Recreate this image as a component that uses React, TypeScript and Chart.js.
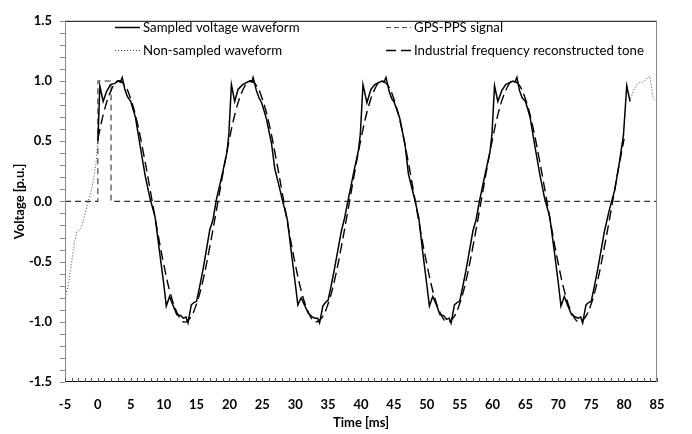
import React, { useEffect, useRef } from "react";
import { Chart, registerables } from "chart.js";

Chart.register(...registerables);

// ---------- data ----------
const legendLabels = [
  "Sampled voltage waveform",
  "Non-sampled waveform",
  "GPS-PPS signal",
  "Industrial frequency reconstructed tone",
];

const xTickStep = 5;
const yTickStep = 0.5;

// Sampled voltage waveform (solid)
const sampledTime = [
  0.0, 0.3, 0.8, 1.3, 1.9, 2.6, 3.1, 3.4, 3.7, 4.1, 4.5, 5.0, 5.7, 6.4, 7.2, 7.9, 8.7, 9.4, 10.0, 10.4,
  10.9, 11.4, 12.0, 12.6, 13.0, 13.4, 13.7, 14.2, 14.6, 15.0, 15.5, 16.0, 17.0, 17.5, 18.0, 19.0, 19.6, 19.9,
  20.3, 20.8, 21.3, 22.0, 22.7, 23.1, 23.4, 23.6, 24.1, 24.5, 24.9, 25.6, 26.4, 26.9, 27.4, 28.1, 28.8, 29.4,
  30.0, 30.4, 30.9, 31.4, 32.0, 32.6, 33.0, 33.4, 33.7, 34.2, 34.6, 35.0, 35.5, 36.0, 37.0, 37.5, 38.0, 39.0,
  39.6, 39.9,
  40.3, 40.9, 41.5, 42.1, 42.8, 43.2, 43.5, 43.8, 44.3, 44.7, 45.0, 45.9, 46.7, 47.2, 47.6, 48.2, 48.8, 49.4,
  50.0, 50.4, 50.9, 51.4, 52.0, 52.6, 53.0, 53.4, 53.7, 54.2, 54.6, 55.0, 55.5, 56.0, 57.0, 57.5, 58.0, 59.0,
  59.6, 59.9,
  60.3, 60.8, 61.4, 62.0, 62.7, 63.1, 63.4, 63.7, 64.1, 64.5, 65.0, 65.7, 66.4, 67.2, 67.9, 68.7, 69.4, 70.0,
  70.4, 70.9, 71.4, 72.0, 72.6, 73.0, 73.4, 73.7, 74.2, 74.6, 75.0, 75.5, 76.0, 77.0, 77.8, 78.6, 79.3, 79.9,
  80.4, 80.9,
];
const sampledVolt = [
  0.50, 0.96, 0.83, 0.91, 0.97, 0.98, 1.00, 0.99, 1.03, 0.93, 0.87, 0.83, 0.70, 0.47, 0.21, 0.03, -0.13, -0.43, -0.68, -0.87,
  -0.79, -0.86, -0.94, -0.95, -0.97, -0.96, -1.01, -0.86, -0.84, -0.83, -0.70, -0.56, -0.24, -0.15, 0.01, 0.25, 0.40, 0.55,
  0.97, 0.83, 0.93, 0.97, 0.99, 1.00, 0.99, 1.03, 0.92, 0.86, 0.82, 0.69, 0.48, 0.27, 0.16, 0.00, -0.15, -0.42,
  -0.68, -0.86, -0.80, -0.86, -0.93, -0.96, -0.97, -0.97, -1.01, -0.87, -0.84, -0.82, -0.69, -0.55, -0.25, -0.14, 0.00, 0.27,
  0.42, 0.56,
  0.97, 0.82, 0.93, 0.97, 0.99, 1.00, 0.99, 1.03, 0.91, 0.85, 0.83, 0.69, 0.47, 0.23, 0.14, 0.01, -0.14, -0.43,
  -0.69, -0.87, -0.79, -0.85, -0.94, -0.95, -0.98, -0.97, -1.01, -0.86, -0.84, -0.83, -0.70, -0.56, -0.25, -0.15, 0.00, 0.26,
  0.41, 0.55,
  0.96, 0.83, 0.92, 0.97, 0.99, 1.00, 0.99, 1.03, 0.92, 0.86, 0.83, 0.70, 0.47, 0.22, 0.03, -0.13, -0.42, -0.68,
  -0.87, -0.79, -0.86, -0.94, -0.96, -0.97, -0.96, -1.01, -0.86, -0.84, -0.83, -0.70, -0.56, -0.25, -0.06, 0.10, 0.33, 0.55,
  0.96, 0.83,
];

// Non-sampled waveform (dotted), null = gap
const nonSampledTime = [-5.0, -4.5, -4.0, -3.5, -3.2, -2.5, -2.0, -1.7, -1.2, -0.7, -0.3, 0.0, 40, 80.9, 81.4, 82.0, 82.6, 83.1, 83.6, 83.9, 84.4, 85.0];
const nonSampledVolt = [-0.80, -0.70, -0.51, -0.32, -0.25, -0.22, -0.11, -0.05, 0.05, 0.17, 0.31, 0.50, null, 0.83, 0.92, 0.98, 0.99, 1.00, 1.03, 1.04, 0.86, 0.83];

// GPS-PPS signal
const ppsTime = [-5, 0, 0, 2, 2, 85];
const ppsVolt = [0, 0, 1, 1, 0, 0];

// Industrial frequency reconstructed tone (read every 1 ms)
const toneTime = [
  0, 1, 2, 3, 4, 5, 6, 7, 8, 9, 10, 11, 12, 13, 14, 15, 16, 17, 18, 19,
  20, 21, 22, 23, 24, 25, 26, 27, 28, 29, 30, 31, 32, 33, 34, 35, 36, 37, 38, 39,
  40, 41, 42, 43, 44, 45, 46, 47, 48, 49, 50, 51, 52, 53, 54, 55, 56, 57, 58, 59,
  60, 61, 62, 63, 64, 65, 66, 67, 68, 69, 70, 71, 72, 73, 74, 75, 76, 77, 78, 79, 80,
];
const toneVolt = [
  0.52, 0.76, 0.92, 1.0, 0.97, 0.85, 0.65, 0.38, 0.08, -0.23, -0.52, -0.76, -0.92, -1.0, -0.97, -0.85, -0.65, -0.38, -0.08, 0.23,
  0.52, 0.76, 0.92, 1.0, 0.97, 0.85, 0.65, 0.38, 0.08, -0.23, -0.52, -0.76, -0.92, -1.0, -0.97, -0.85, -0.65, -0.38, -0.08, 0.23,
  0.52, 0.76, 0.92, 1.0, 0.97, 0.85, 0.65, 0.38, 0.08, -0.23, -0.52, -0.76, -0.92, -1.0, -0.97, -0.85, -0.65, -0.38, -0.08, 0.23,
  0.52, 0.76, 0.92, 1.0, 0.97, 0.85, 0.65, 0.38, 0.08, -0.23, -0.52, -0.76, -0.92, -1.0, -0.97, -0.85, -0.65, -0.38, -0.08, 0.23, 0.52,
];

const pts = (xs: number[], ys: (number | null)[]) => xs.map((x, i) => ({ x, y: ys[i] }));

const FONT = "Lato, 'Open Sans', sans-serif";

const decorPlugin = {
  id: "decor",
  afterDraw(chart: any) {
    const { ctx, chartArea, scales } = chart;
    const { left, right, top, bottom } = chartArea;
    const x = scales.x;
    const y = scales.y;
    const line = (x1: number, y1: number, x2: number, y2: number) => {
      ctx.beginPath();
      ctx.moveTo(x1, y1);
      ctx.lineTo(x2, y2);
      ctx.stroke();
    };
    ctx.save();
    ctx.lineWidth = 1;
    ctx.setLineDash([]);
    // frame
    ctx.strokeStyle = "#000";
    line(left, top + 0.5, right, top + 0.5);
    line(left, bottom - 0.5, right, bottom - 0.5);
    ctx.strokeStyle = "#888";
    line(left + 0.5, top, left + 0.5, bottom);
    line(right - 0.5, top, right - 0.5, bottom);
    // y ticks every 0.1 (outward)
    for (let i = -15; i <= 15; i++) {
      const py = Math.round(y.getPixelForValue(i / 10)) + 0.5;
      line(left - 5, py, left, py);
    }
    // x ticks every 1 ms (inward)
    ctx.strokeStyle = "#555";
    for (let t = -5; t <= 85; t++) {
      const px = Math.round(x.getPixelForValue(t)) + 0.5;
      line(px, bottom, px, bottom - 4);
    }
    // legend: fit font so the longest label spans ~230px like the original
    ctx.font = `13px ${FONT}`;
    const w = ctx.measureText(legendLabels[3]).width;
    const size = Math.max(11, Math.min(15, (13 * 230) / w));
    ctx.font = `${size.toFixed(2)}px ${FONT}`;
    ctx.fillStyle = "#000";
    ctx.textBaseline = "middle";
    ctx.textAlign = "left";
    const rows = [27, 50];
    const items = [
      { col: 0, row: 0, dash: [], color: "#000", width: 1.5 },
      { col: 0, row: 1, dash: [1, 2], color: "#444", width: 1 },
      { col: 1, row: 0, dash: [5, 3], color: "#555", width: 1 },
      { col: 1, row: 1, dash: [10, 5], color: "#000", width: 1.5 },
    ];
    const cols = [115, 386];
    items.forEach((it, i) => {
      const sx = cols[it.col];
      const sy = rows[it.row] + 0.5;
      ctx.strokeStyle = it.color;
      ctx.lineWidth = it.width;
      ctx.setLineDash(it.dash);
      line(sx, sy, sx + 25, sy);
      ctx.setLineDash([]);
      ctx.fillText(legendLabels[i], sx + 28, rows[it.row] + 1);
    });
    ctx.restore();
  },
};

export default function App() {
  const ref = useRef<HTMLCanvasElement | null>(null);
  useEffect(() => {
    document.body.style.margin = "0";
    const canvas = ref.current;
    if (!canvas) return;
    const chart = new Chart(canvas, {
      type: "line",
      data: {
        datasets: [
          {
            label: legendLabels[0],
            data: pts(sampledTime, sampledVolt),
            borderColor: "#000",
            borderWidth: 1.5,
            pointRadius: 0,
            tension: 0,
            fill: false,
          },
          {
            label: legendLabels[3],
            data: pts(toneTime, toneVolt),
            borderColor: "#000",
            borderWidth: 1.4,
            borderDash: [10, 5],
            pointRadius: 0,
            tension: 0.4,
            fill: false,
          },
          {
            label: legendLabels[1],
            data: pts(nonSampledTime, nonSampledVolt),
            borderColor: "#444",
            borderWidth: 1,
            borderDash: [1, 2],
            pointRadius: 0,
            tension: 0,
            spanGaps: false,
            fill: false,
          },
          {
            label: legendLabels[2],
            data: pts(ppsTime, ppsVolt),
            borderColor: "#333",
            borderWidth: 1.1,
            borderDash: [6, 4],
            pointRadius: 0,
            tension: 0,
            fill: false,
          },
        ],
      },
      options: {
        responsive: false,
        animation: false,
        events: [],
        layout: { padding: { top: 13, right: 35, left: 0, bottom: 0 } },
        plugins: { legend: { display: false }, tooltip: { enabled: false } },
        scales: {
          x: {
            type: "linear",
            min: -5,
            max: 85,
            grid: { display: false, drawTicks: false },
            border: { display: false },
            ticks: {
              stepSize: xTickStep,
              padding: 15,
              color: "#000",
              font: { family: FONT, size: 13, weight: "bold" },
              maxRotation: 0,
              autoSkip: false,
            },
            title: {
              display: true,
              text: "Time [ms]",
              color: "#000",
              font: { family: FONT, size: 13, weight: "bold" },
              padding: { top: 0, bottom: 3 },
            },
            afterFit: (s: any) => {
              s.height = 52;
            },
          },
          y: {
            min: -1.5,
            max: 1.5,
            grid: { display: false, drawTicks: false },
            border: { display: false },
            ticks: {
              stepSize: yTickStep,
              padding: 13,
              color: "#000",
              font: { family: FONT, size: 13, weight: "bold" },
              callback: (v: any) => Number(v).toFixed(1),
            },
            title: {
              display: true,
              text: "Voltage [p.u.]",
              color: "#000",
              font: { family: FONT, size: 13, weight: "bold" },
              padding: { top: 12, bottom: 0 },
            },
            afterFit: (s: any) => {
              s.width = 65;
            },
          },
        },
      },
      plugins: [decorPlugin],
    });
    return () => chart.destroy();
  }, []);
  return <canvas ref={ref} width={692} height={434} style={{ display: "block" }} />;
}
